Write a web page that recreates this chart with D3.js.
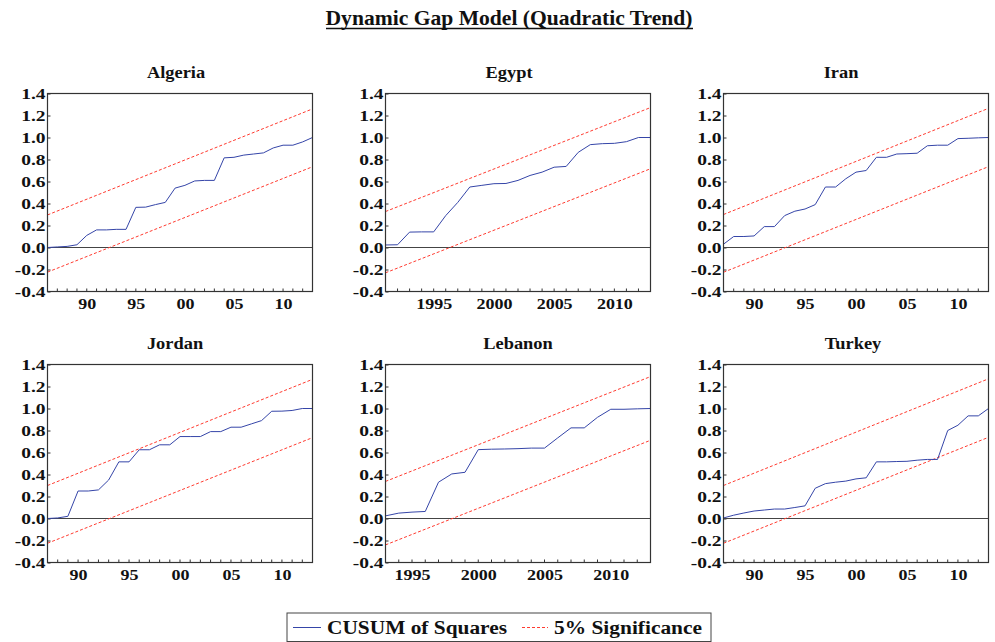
<!DOCTYPE html>
<html lang="en">
<head>
<meta charset="UTF-8">
<title>Dynamic Gap Model (Quadratic Trend)</title>
<style>
  body { margin: 0; background: #fff; }
  text { font-family: "Liberation Serif", "Times New Roman", serif; font-weight: bold; fill: #111; }
</style>
</head>
<body>
<svg width="995" height="642"></svg>

<script src="https://cdn.jsdelivr.net/npm/d3@7/dist/d3.min.js"></script>
<script>
// data
var countries = ["Algeria", "Egypt", "Iran", "Jordan", "Lebanon", "Turkey"];
var startYears = [1986, 1991, 1987, 1987, 1993, 1987];
var endYear = 2013;

var cusumAlgeria = [0.0, 0.005, 0.01, 0.025, 0.11, 0.16, 0.16, 0.165, 0.165, 0.365, 0.367, 0.39, 0.41, 0.54,
  0.565, 0.605, 0.61, 0.61, 0.815, 0.82, 0.84, 0.85, 0.86, 0.905, 0.93, 0.93, 0.96, 1.0];
var cusumEgypt = [0.023, 0.025, 0.14, 0.142, 0.142, 0.29, 0.41, 0.55, 0.565, 0.58, 0.582, 0.61, 0.655, 0.685,
  0.73, 0.737, 0.865, 0.935, 0.944, 0.947, 0.962, 1.0, 1.0];
var cusumIran = [0.03, 0.10, 0.10, 0.105, 0.19, 0.19, 0.29, 0.33, 0.35, 0.39, 0.55, 0.55, 0.625, 0.685,
  0.70, 0.82, 0.82, 0.85, 0.853, 0.857, 0.925, 0.93, 0.93, 0.99, 0.993, 0.997, 1.0];
var cusumJordan = [0.0, 0.005, 0.02, 0.25, 0.25, 0.26, 0.35, 0.515, 0.515, 0.625, 0.625, 0.67, 0.67, 0.745,
  0.745, 0.745, 0.79, 0.79, 0.83, 0.83, 0.86, 0.89, 0.975, 0.976, 0.982, 1.0, 1.0];
var cusumLebanon = [0.024, 0.049, 0.058, 0.064, 0.33, 0.405, 0.42, 0.626, 0.63, 0.632, 0.635, 0.64, 0.64,
  0.733, 0.824, 0.824, 0.92, 0.993, 0.993, 0.997, 1.0];
var cusumTurkey = [0.005, 0.03, 0.05, 0.068, 0.077, 0.086, 0.086, 0.10, 0.115, 0.275, 0.317, 0.33, 0.34,
  0.36, 0.37, 0.515, 0.515, 0.518, 0.52, 0.53, 0.537, 0.537, 0.80, 0.848, 0.933, 0.933, 1.0];
var cusumSeries = [cusumAlgeria, cusumEgypt, cusumIran, cusumJordan, cusumLebanon, cusumTurkey];

// 5% bands: value at first and last year
var upperBand = [[0.296, 1.26], [0.327, 1.272], [0.30, 1.265], [0.30, 1.265], [0.337, 1.29], [0.30, 1.27]];
var lowerBand = [[-0.224, 0.734], [-0.23, 0.716], [-0.225, 0.735], [-0.225, 0.735], [-0.24, 0.711], [-0.225, 0.738]];

var yTicks = [-0.4, -0.2, 0.0, 0.2, 0.4, 0.6, 0.8, 1.0, 1.2, 1.4];
var xTicksShort = [1990, 1995, 2000, 2005, 2010];   // shown as 90, 95, 00 ...
var xTicksLong = [1995, 2000, 2005, 2010];
var shortLabel = [1, 0, 1, 1, 0, 1]; // which panels use two digit years

var svg = d3.select("svg");

// layout
var colLeft = [47.5, 385.5, 723.5];
var rowTop = [93.5, 364.5];
var pw = 265, ph = 198;
var titleShift = [-4, -9, -15, -5, 0, -3];
var blue = "#3545a8", red = "#ff3b30";

svg.append("text")
  .attr("x", 509).attr("y", 25)
  .attr("text-anchor", "middle")
  .attr("font-size", 21)
  .attr("textLength", 367).attr("lengthAdjust", "spacingAndGlyphs")
  .text("Dynamic Gap Model (Quadratic Trend)");
svg.append("line")
  .attr("x1", 326).attr("x2", 693).attr("y1", 28.5).attr("y2", 28.5)
  .attr("stroke", "#111").attr("stroke-width", 1.3);

var y = d3.scaleLinear().domain([-0.4, 1.4]).range([ph, 0]);

countries.forEach(function(name, i) {
  var g = svg.append("g")
    .attr("transform", "translate(" + colLeft[i % 3] + "," + rowTop[Math.floor(i / 3)] + ")");
  var years = d3.range(startYears[i], endYear + 1);
  var x = d3.scaleLinear().domain([startYears[i], endYear]).range([0, pw]);

  // title
  var cx = pw / 2 + titleShift[i];
  g.append("text")
    .attr("x", 0).attr("y", -15.5)
    .attr("text-anchor", "middle")
    .attr("font-size", 16)
    .attr("transform", "translate(" + cx + ",0) scale(1.15,1)")
    .text(name);

  // y axis
  var ya = g.append("g").call(d3.axisLeft(y).tickValues(yTicks).tickSize(0).tickFormat(d3.format(".1f")));
  ya.select(".domain").remove();
  ya.selectAll("text")
    .attr("x", 0).attr("dy", "0.35em")
    .attr("font-size", 15).attr("fill", "#111")
    .attr("transform", "translate(-2,0) scale(1.3,1)")
    .text(function(d) { return d3.format(".1f")(d).replace("−", "-"); });
  ya.selectAll(".tick").append("line")
    .attr("x2", 3).attr("stroke", "#333");

  // x axis
  var ticks = shortLabel[i] ? xTicksShort : xTicksLong;
  var xa = g.append("g").attr("transform", "translate(0," + ph + ")")
    .call(d3.axisBottom(x).tickValues(ticks).tickSize(0)
      .tickFormat(function(d) { return shortLabel[i] ? String(d).slice(2) : String(d); }));
  xa.select(".domain").remove();
  xa.selectAll("text")
    .attr("y", 0).attr("dy", "1.05em")
    .attr("font-size", 15).attr("fill", "#111")
    .attr("transform", "translate(0,2) scale(1.2,1)");
  g.append("g").selectAll("line").data(years).enter().append("line")
    .attr("x1", function(d) { return x(d); }).attr("x2", function(d) { return x(d); })
    .attr("y1", ph).attr("y2", ph - 3)
    .attr("stroke", "#333");

  // zero line
  g.append("line")
    .attr("x1", 0).attr("x2", pw).attr("y1", y(0)).attr("y2", y(0))
    .attr("stroke", "#444").attr("stroke-width", 1);

  // 5% significance bands
  [upperBand[i], lowerBand[i]].forEach(function(b) {
    g.append("line")
      .attr("x1", x(startYears[i])).attr("x2", x(endYear))
      .attr("y1", y(b[0])).attr("y2", y(b[1]))
      .attr("stroke", red).attr("stroke-width", 1)
      .attr("stroke-dasharray", "3,2");
  });

  // cusum of squares
  var line = d3.line()
    .x(function(d, j) { return x(years[j]); })
    .y(function(d) { return y(d); });
  g.append("path")
    .datum(cusumSeries[i])
    .attr("d", line)
    .attr("fill", "none").attr("stroke", blue).attr("stroke-width", 1);

  // frame
  g.append("rect")
    .attr("width", pw).attr("height", ph)
    .attr("fill", "none").attr("stroke", "#333").attr("stroke-width", 1.2);
});

// legend
var lg = svg.append("g");
lg.append("rect")
  .attr("x", 287).attr("y", 613).attr("width", 424).attr("height", 28.5)
  .attr("fill", "#fff").attr("stroke", "#444").attr("stroke-width", 1);
lg.append("line").attr("x1", 293).attr("x2", 321).attr("y1", 627.5).attr("y2", 627.5)
  .attr("stroke", blue).attr("stroke-width", 1);
lg.append("text").attr("x", 327).attr("y", 634).attr("font-size", 18)
  .attr("textLength", 180).attr("lengthAdjust", "spacingAndGlyphs")
  .text("CUSUM of Squares");
lg.append("line").attr("x1", 522).attr("x2", 548).attr("y1", 627.5).attr("y2", 627.5)
  .attr("stroke", red).attr("stroke-width", 1).attr("stroke-dasharray", "3,2");
lg.append("text").attr("x", 554).attr("y", 634).attr("font-size", 18)
  .attr("textLength", 148).attr("lengthAdjust", "spacingAndGlyphs")
  .text("5% Significance");
</script>
</body>
</html>
